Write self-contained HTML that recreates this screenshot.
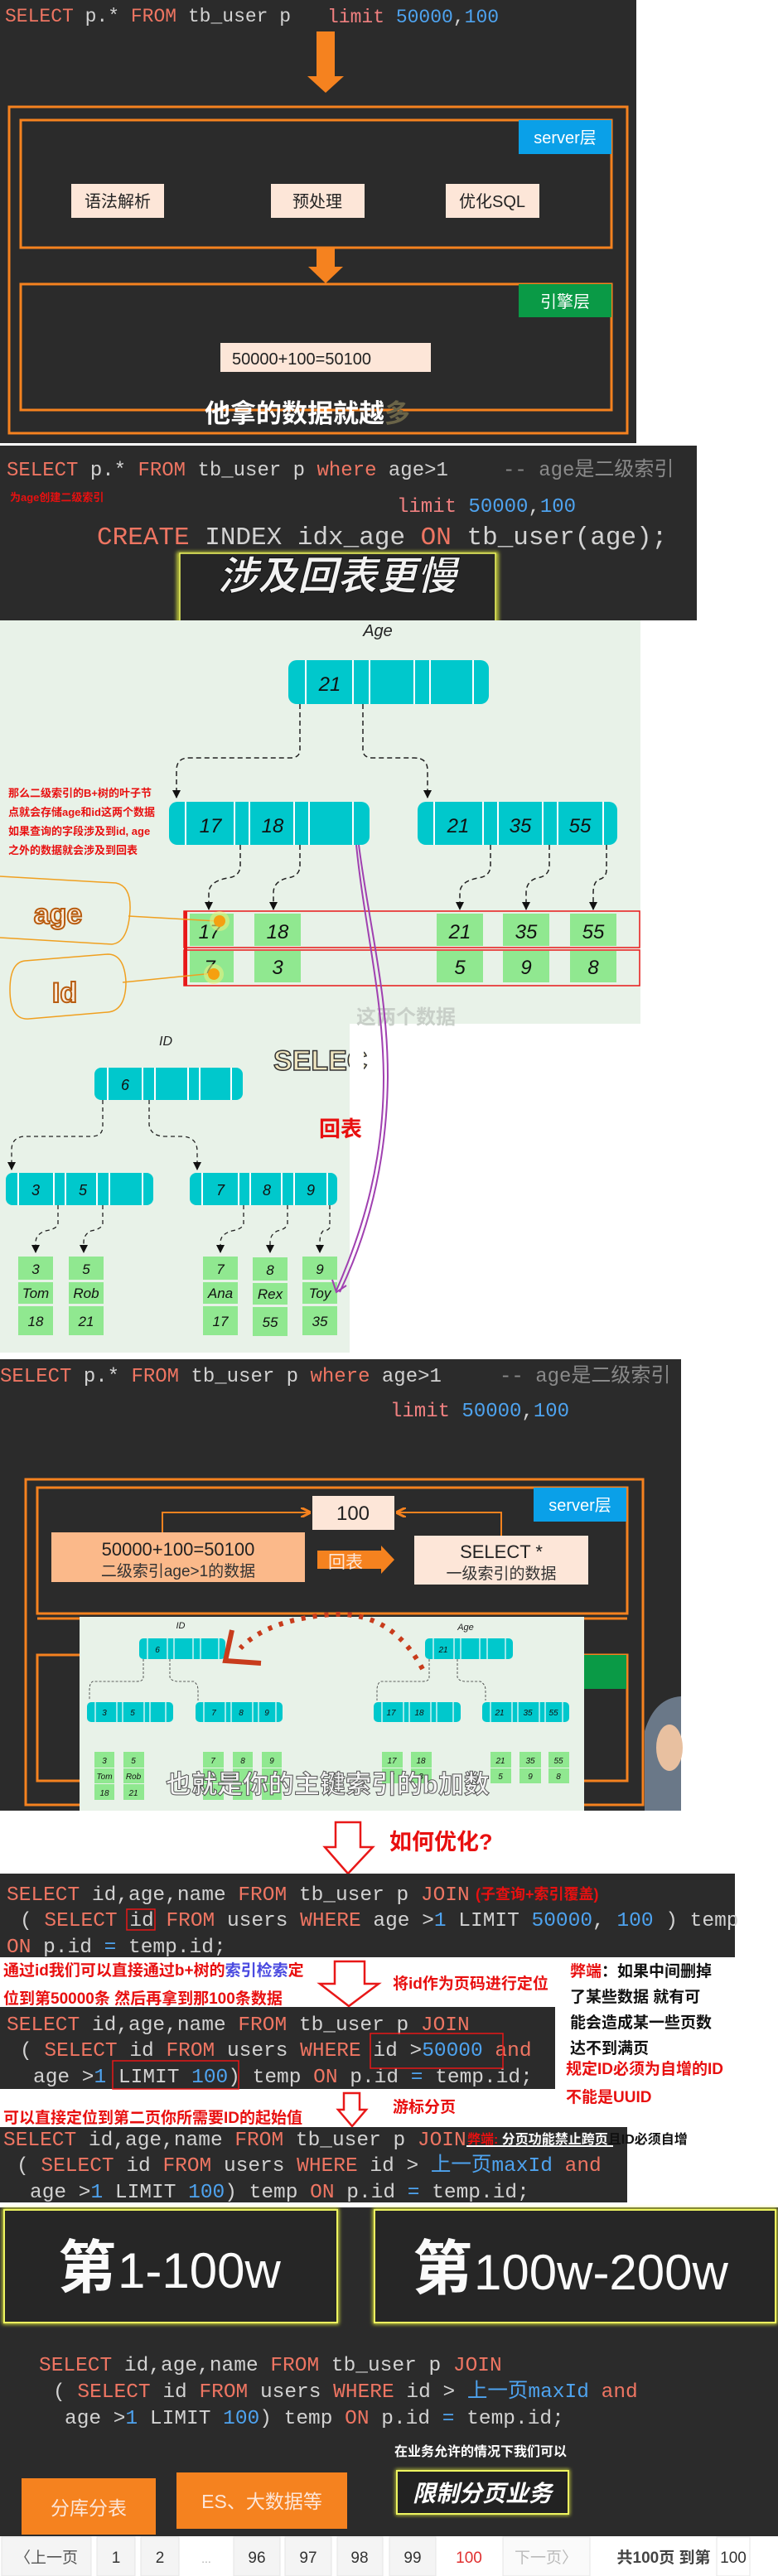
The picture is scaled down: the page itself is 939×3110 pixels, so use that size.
<!DOCTYPE html>
<html><head><meta charset="utf-8">
<style>
html,body{margin:0;padding:0;background:#fff;}
svg{display:block;}
.m{font-family:"Liberation Mono","Noto Sans CJK SC",monospace;}
.s{font-family:"Liberation Sans","Noto Sans CJK SC",sans-serif;}
.k{fill:#ee7562}.n{fill:#4ea3ef}.t{fill:#d2d2d2}.c{fill:#8a8a8a}
.it{font-family:"Liberation Sans",sans-serif;font-style:italic;}
</style></head><body>
<svg width="939" height="3110" viewBox="0 0 939 3110" xmlns="http://www.w3.org/2000/svg">
<defs>
<marker id="ah" markerWidth="8" markerHeight="8" refX="4" refY="7" orient="auto" markerUnits="userSpaceOnUse">
<path d="M0,0 L8,0 L4,8 z" fill="#111" transform="rotate(-90 4 4)"/>
</marker>
<marker id="ar" viewBox="0 0 10 10" refX="9" refY="5" markerWidth="10" markerHeight="10" orient="auto" markerUnits="userSpaceOnUse"><path d="M0,0 L10,5 L0,10 z" fill="#111"/></marker>
<marker id="ao" viewBox="0 0 10 10" refX="9" refY="5" markerWidth="12" markerHeight="12" orient="auto" markerUnits="userSpaceOnUse"><path d="M0,0 L10,5 L0,10" fill="none" stroke="#f5821f" stroke-width="2.5"/></marker>
<filter id="glow"><feGaussianBlur stdDeviation="2.5"/></filter>
</defs>

<!-- ===== Section 1 ===== -->
<rect x="0" y="0" width="768" height="535" fill="#2b2b2b"/>
<text x="6" y="26" class="m" font-size="23"><tspan class="k">SELECT</tspan><tspan class="t"> p.* </tspan><tspan class="k">FROM</tspan><tspan class="t"> tb_user p</tspan></text>
<text x="395" y="27" class="m" font-size="23"><tspan fill="#f08080">limit</tspan><tspan class="n"> 50000</tspan><tspan class="t">,</tspan><tspan class="n">100</tspan></text>
<polygon points="382,38 404,38 404,92 415,92 393,112 371,92 382,92" fill="#f5821f"/>
<rect x="11" y="129" width="746" height="394" fill="none" stroke="#f5821f" stroke-width="3"/>
<rect x="25" y="145" width="713" height="154" fill="none" stroke="#f5821f" stroke-width="3"/>
<rect x="626" y="145" width="112" height="41" fill="#0aa0e8"/>
<text x="682" y="173" class="s" font-size="20" fill="#fff" text-anchor="middle">server层</text>
<rect x="86" y="222" width="112" height="41" fill="#fde6d8"/>
<text x="142" y="250" class="s" font-size="20" fill="#222" text-anchor="middle">语法解析</text>
<rect x="327" y="222" width="113" height="41" fill="#fde6d8"/>
<text x="383" y="250" class="s" font-size="20" fill="#222" text-anchor="middle">预处理</text>
<rect x="538" y="222" width="113" height="41" fill="#fde6d8"/>
<text x="594" y="250" class="s" font-size="20" fill="#222" text-anchor="middle">优化SQL</text>
<polygon points="382,299 404,299 404,322 414,322 393,342 372,322 382,322" fill="#f5821f"/>
<rect x="25" y="343" width="713" height="152" fill="none" stroke="#f5821f" stroke-width="3"/>
<rect x="626" y="343" width="112" height="40" fill="#0a9a46"/>
<text x="682" y="371" class="s" font-size="20" fill="#fff" text-anchor="middle">引擎层</text>
<rect x="266" y="414" width="254" height="35" fill="#fde6d8"/>
<text x="280" y="440" class="s" font-size="20" fill="#222">50000+100=50100</text>
<text x="247" y="510" class="s" font-size="31" font-weight="bold" fill="#fff">他拿的数据就越<tspan fill="#6a6448">多</tspan></text>

<!-- ===== Section 2 ===== -->
<rect x="0" y="538" width="841" height="211" fill="#2b2b2b"/>
<text x="8" y="574" class="m" font-size="24"><tspan class="k">SELECT</tspan><tspan class="t"> p.* </tspan><tspan class="k">FROM</tspan><tspan class="t"> tb_user p </tspan><tspan class="k">where</tspan><tspan class="t"> age&gt;1</tspan></text>
<text x="607" y="574" class="m" font-size="24" fill="#8a8a8a">-- age是二级索引</text>
<text x="12" y="605" class="s" font-size="13" font-weight="bold" fill="#e81010">为age创建二级索引</text>
<text x="479" y="618" class="m" font-size="24"><tspan fill="#f08080">limit</tspan><tspan class="n"> 50000</tspan><tspan class="t">,</tspan><tspan class="n">100</tspan></text>
<text x="117" y="657" class="m" font-size="31"><tspan class="k">CREATE</tspan><tspan class="t"> INDEX idx_age </tspan><tspan class="k">ON</tspan><tspan class="t"> tb_user(age);</tspan></text>
<rect x="215" y="668" width="385" height="90" fill="#2a2a2a" stroke="#e6f040" stroke-width="3" filter="url(#glow)"/>
<rect x="217" y="668" width="381" height="88" fill="#262626" stroke="#eef560" stroke-width="1.5"/>
<text x="407" y="712" class="s" font-size="48" font-weight="bold" font-style="italic" fill="#f2f2f2" text-anchor="middle" stroke="#111" stroke-width="1">涉及回表更慢</text>

<!-- ===== Section 3 green ===== -->
<rect x="0" y="749" width="773" height="487" fill="#e8f2e8"/>
<rect x="0" y="1236" width="422" height="397" fill="#e8f2e8"/>
<text x="456" y="768" class="it" font-size="20" fill="#222" text-anchor="middle">Age</text>
<!-- Age root -->
<rect x="348" y="797" width="242" height="53" rx="10" fill="#00c8cc"/>
<g stroke="#fff" stroke-width="2"><line x1="369" y1="797" x2="369" y2="850"/><line x1="426" y1="797" x2="426" y2="850"/><line x1="446" y1="797" x2="446" y2="850"/><line x1="500" y1="797" x2="500" y2="850"/><line x1="519" y1="797" x2="519" y2="850"/><line x1="571" y1="797" x2="571" y2="850"/></g>
<text x="398" y="834" class="it" font-size="24" fill="#111" text-anchor="middle">21</text>
<g fill="none" stroke="#222" stroke-width="1.5" stroke-dasharray="6,4">
<path d="M362 850 V905 Q362 915 350 915 H228 Q213 915 213 930 V963" marker-end="url(#ar)"/>
<path d="M438 850 V905 Q438 915 450 915 H500 Q516 915 516 930 V963" marker-end="url(#ar)"/>
<path d="M290 1020 V1045 Q290 1058 275 1060 Q252 1064 252 1078 V1098" marker-end="url(#ar)"/>
<path d="M362 1020 V1045 Q362 1058 347 1060 Q330 1064 330 1078 V1098" marker-end="url(#ar)"/>
<path d="M592 1020 V1045 Q592 1058 577 1060 Q555 1064 555 1078 V1098" marker-end="url(#ar)"/>
<path d="M663 1020 V1045 Q663 1058 648 1060 Q635 1064 635 1078 V1098" marker-end="url(#ar)"/>
<path d="M732 1020 V1050 Q732 1060 722 1062 Q716 1066 716 1078 V1098" marker-end="url(#ar)"/>
</g>
<rect x="204" y="968" width="242" height="52" rx="10" fill="#00c8cc"/>
<g stroke="#fff" stroke-width="2"><line x1="224" y1="968" x2="224" y2="1020"/><line x1="283" y1="968" x2="283" y2="1020"/><line x1="301" y1="968" x2="301" y2="1020"/><line x1="355" y1="968" x2="355" y2="1020"/><line x1="373" y1="968" x2="373" y2="1020"/><line x1="426" y1="968" x2="426" y2="1020"/></g>
<text x="254" y="1005" class="it" font-size="24" fill="#111" text-anchor="middle">17</text>
<text x="329" y="1005" class="it" font-size="24" fill="#111" text-anchor="middle">18</text>
<rect x="504" y="968" width="241" height="52" rx="10" fill="#00c8cc"/>
<g stroke="#fff" stroke-width="2"><line x1="524" y1="968" x2="524" y2="1020"/><line x1="583" y1="968" x2="583" y2="1020"/><line x1="601" y1="968" x2="601" y2="1020"/><line x1="655" y1="968" x2="655" y2="1020"/><line x1="673" y1="968" x2="673" y2="1020"/><line x1="728" y1="968" x2="728" y2="1020"/></g>
<text x="553" y="1005" class="it" font-size="24" fill="#111" text-anchor="middle">21</text>
<text x="628" y="1005" class="it" font-size="24" fill="#111" text-anchor="middle">35</text>
<text x="700" y="1005" class="it" font-size="24" fill="#111" text-anchor="middle">55</text>
<!-- leaves -->
<g fill="#90e890">
<rect x="229" y="1103" width="53" height="39"/><rect x="307" y="1103" width="56" height="39"/><rect x="527" y="1103" width="56" height="39"/><rect x="607" y="1103" width="56" height="39"/><rect x="688" y="1103" width="56" height="39"/>
<rect x="229" y="1148" width="53" height="38"/><rect x="307" y="1148" width="56" height="38"/><rect x="527" y="1148" width="56" height="38"/><rect x="607" y="1148" width="56" height="38"/><rect x="688" y="1148" width="56" height="38"/>
</g>
<g class="it" font-size="24" fill="#111" text-anchor="middle">
<text x="253" y="1133">17</text><text x="335" y="1133">18</text><text x="555" y="1133">21</text><text x="635" y="1133">35</text><text x="716" y="1133">55</text>
<text x="253" y="1176">7</text><text x="335" y="1176">3</text><text x="555" y="1176">5</text><text x="635" y="1176">9</text><text x="716" y="1176">8</text>
</g>
<rect x="222" y="1100" width="550" height="44" fill="none" stroke="#e81818" stroke-width="1.5"/>
<rect x="222" y="1147" width="550" height="43" fill="none" stroke="#e81818" stroke-width="1.5"/>
<rect x="222" y="1100" width="4" height="90" fill="#e81818"/>
<g class="s" font-size="13" font-weight="bold" fill="#e81010">
<text x="10" y="962">那么二级索引的B+树的叶子节</text>
<text x="10" y="985">点就会存储age和id这两个数据</text>
<text x="10" y="1008">如果查询的字段涉及到id, age</text>
<text x="10" y="1031">之外的数据就会涉及到回表</text>
</g>
<path d="M0 1058 L140 1066 Q158 1070 157 1098 Q155 1138 135 1140 L0 1132" fill="none" stroke="#f0a020" stroke-width="1.5"/>
<path d="M30 1160 L130 1152 Q150 1152 152 1185 Q152 1220 130 1222 L35 1230 Q12 1232 12 1195 Q12 1162 30 1160" fill="none" stroke="#f0a020" stroke-width="1.5"/>
<text x="70" y="1115" class="s" font-size="34" font-weight="bold" fill="#fbeedd" stroke="#b85c10" stroke-width="2" text-anchor="middle">age</text>
<text x="78" y="1210" class="s" font-size="34" font-weight="bold" fill="#fbeedd" stroke="#b85c10" stroke-width="2" text-anchor="middle">Id</text>
<line x1="155" y1="1106" x2="262" y2="1112" stroke="#f0a020" stroke-width="1.5"/>
<line x1="148" y1="1186" x2="258" y2="1175" stroke="#f0a020" stroke-width="1.5"/>
<circle cx="265" cy="1112" r="12" fill="#e8f080" opacity="0.6"/><circle cx="265" cy="1112" r="7" fill="#f5a010"/>
<circle cx="258" cy="1176" r="12" fill="#e8f080" opacity="0.6"/><circle cx="258" cy="1176" r="7" fill="#f5a010"/>
<text x="430" y="1236" class="s" font-size="24" font-weight="bold" fill="#c8cfc8">这两个数据</text>
<!-- ID tree -->
<text x="200" y="1262" class="it" font-size="16" fill="#222" text-anchor="middle">ID</text>
<text x="330" y="1292" class="s" font-size="34" font-weight="bold" fill="#efe6c0" stroke="#333" stroke-width="1.5">SELEC</text>
<rect x="422" y="1255" width="17" height="45" fill="#fff"/>
<rect x="114" y="1289" width="179" height="39" rx="8" fill="#00c8cc"/>
<g stroke="#fff" stroke-width="2"><line x1="130" y1="1289" x2="130" y2="1328"/><line x1="172" y1="1289" x2="172" y2="1328"/><line x1="187" y1="1289" x2="187" y2="1328"/><line x1="227" y1="1289" x2="227" y2="1328"/><line x1="241" y1="1289" x2="241" y2="1328"/><line x1="279" y1="1289" x2="279" y2="1328"/></g>
<text x="151" y="1316" class="it" font-size="18" fill="#111" text-anchor="middle">6</text>
<g fill="none" stroke="#222" stroke-width="1.3" stroke-dasharray="5,4">
<path d="M124 1328 V1360 Q124 1372 110 1372 H28 Q14 1374 14 1388 V1412" marker-end="url(#ar)"/>
<path d="M180 1328 V1358 Q182 1372 200 1372 H222 Q238 1374 238 1390 V1412" marker-end="url(#ar)"/>
<path d="M70 1455 V1478 Q68 1484 55 1486 Q43 1490 43 1500 V1512" marker-end="url(#ar)"/>
<path d="M124 1455 V1478 Q122 1484 110 1486 Q101 1490 101 1500 V1512" marker-end="url(#ar)"/>
<path d="M294 1455 V1478 Q292 1484 280 1486 Q266 1490 266 1500 V1512" marker-end="url(#ar)"/>
<path d="M347 1455 V1478 Q345 1484 335 1486 Q326 1490 326 1500 V1512" marker-end="url(#ar)"/>
<path d="M398 1455 V1482 Q396 1486 390 1486 Q386 1490 386 1500 V1512" marker-end="url(#ar)"/>
</g>
<rect x="7" y="1416" width="178" height="39" rx="8" fill="#00c8cc"/>
<g stroke="#fff" stroke-width="2"><line x1="22" y1="1416" x2="22" y2="1455"/><line x1="65" y1="1416" x2="65" y2="1455"/><line x1="79" y1="1416" x2="79" y2="1455"/><line x1="117" y1="1416" x2="117" y2="1455"/><line x1="132" y1="1416" x2="132" y2="1455"/><line x1="172" y1="1416" x2="172" y2="1455"/></g>
<text x="43" y="1443" class="it" font-size="18" fill="#111" text-anchor="middle">3</text>
<text x="100" y="1443" class="it" font-size="18" fill="#111" text-anchor="middle">5</text>
<rect x="229" y="1416" width="178" height="39" rx="8" fill="#00c8cc"/>
<g stroke="#fff" stroke-width="2"><line x1="244" y1="1416" x2="244" y2="1455"/><line x1="288" y1="1416" x2="288" y2="1455"/><line x1="302" y1="1416" x2="302" y2="1455"/><line x1="340" y1="1416" x2="340" y2="1455"/><line x1="355" y1="1416" x2="355" y2="1455"/><line x1="395" y1="1416" x2="395" y2="1455"/></g>
<text x="266" y="1443" class="it" font-size="18" fill="#111" text-anchor="middle">7</text>
<text x="322" y="1443" class="it" font-size="18" fill="#111" text-anchor="middle">8</text>
<text x="375" y="1443" class="it" font-size="18" fill="#111" text-anchor="middle">9</text>
<g fill="#90e890">
<rect x="22" y="1517" width="42" height="28"/><rect x="22" y="1548" width="42" height="26"/><rect x="22" y="1577" width="42" height="35"/>
<rect x="83" y="1517" width="42" height="28"/><rect x="83" y="1548" width="42" height="26"/><rect x="83" y="1577" width="42" height="35"/>
<rect x="245" y="1517" width="42" height="28"/><rect x="245" y="1548" width="42" height="26"/><rect x="245" y="1577" width="42" height="35"/>
<rect x="305" y="1518" width="42" height="28"/><rect x="305" y="1549" width="42" height="26"/><rect x="305" y="1578" width="42" height="35"/>
<rect x="365" y="1517" width="42" height="28"/><rect x="365" y="1548" width="42" height="26"/><rect x="365" y="1577" width="42" height="35"/>
</g>
<g class="it" font-size="17" fill="#111" text-anchor="middle">
<text x="43" y="1538">3</text><text x="43" y="1567">Tom</text><text x="43" y="1601">18</text>
<text x="104" y="1538">5</text><text x="104" y="1567">Rob</text><text x="104" y="1601">21</text>
<text x="266" y="1538">7</text><text x="266" y="1567">Ana</text><text x="266" y="1601">17</text>
<text x="326" y="1539">8</text><text x="326" y="1568">Rex</text><text x="326" y="1602">55</text>
<text x="386" y="1538">9</text><text x="386" y="1567">Toy</text><text x="386" y="1601">35</text>
</g>
<text x="385" y="1372" class="s" font-size="26" font-weight="bold" fill="#e81010">回表</text>
<!-- purple curve -->
<g fill="none" stroke="#a040b0" stroke-width="2">
<path d="M430 1020 C440 1120, 462 1200, 463 1300 C463 1400, 440 1480, 406 1558"/>
<path d="M433 1020 C446 1120, 468 1200, 468 1300 C467 1400, 446 1485, 410 1560"/>
<path d="M401 1545 L406 1560 L418 1552"/>
</g>

<!-- ===== Section 4 ===== -->
<rect x="0" y="1641" width="822" height="545" fill="#2b2b2b"/>
<text x="0" y="1668" class="m" font-size="24"><tspan class="k">SELECT</tspan><tspan class="t"> p.* </tspan><tspan class="k">FROM</tspan><tspan class="t"> tb_user p </tspan><tspan class="k">where</tspan><tspan class="t"> age&gt;1</tspan></text>
<text x="603" y="1668" class="m" font-size="24" fill="#8a8a8a">-- age是二级索引</text>
<text x="471" y="1710" class="m" font-size="24"><tspan fill="#f08080">limit</tspan><tspan class="n"> 50000</tspan><tspan class="t">,</tspan><tspan class="n">100</tspan></text>
<rect x="31" y="1786" width="745" height="393" fill="none" stroke="#f5821f" stroke-width="3"/>
<rect x="45" y="1796" width="712" height="152" fill="none" stroke="#f5821f" stroke-width="3"/>
<line x1="45" y1="1954" x2="757" y2="1954" stroke="#f5821f" stroke-width="3"/>
<rect x="45" y="1998" width="712" height="152" fill="none" stroke="#f5821f" stroke-width="3"/>
<rect x="644" y="1796" width="112" height="41" fill="#0aa0e8"/>
<text x="700" y="1824" class="s" font-size="20" fill="#fff" text-anchor="middle">server层</text>
<rect x="644" y="1998" width="112" height="41" fill="#0a9a46"/>
<rect x="377" y="1806" width="99" height="41" fill="#fde6d8"/>
<text x="426" y="1835" class="s" font-size="24" fill="#222" text-anchor="middle">100</text>
<path d="M196 1850 V1826 H374" fill="none" stroke="#f5821f" stroke-width="2" marker-end="url(#ao)"/>
<path d="M605 1854 V1826 H479" fill="none" stroke="#f5821f" stroke-width="2" marker-end="url(#ao)"/>
<rect x="62" y="1850" width="306" height="60" fill="#fbb98a"/>
<text x="215" y="1878" class="s" font-size="22" fill="#222" text-anchor="middle">50000+100=50100</text>
<text x="215" y="1903" class="s" font-size="19" fill="#333" text-anchor="middle">二级索引age&gt;1的数据</text>
<rect x="500" y="1854" width="210" height="59" fill="#fde6d8"/>
<text x="605" y="1881" class="s" font-size="22" fill="#222" text-anchor="middle">SELECT *</text>
<text x="605" y="1906" class="s" font-size="19" fill="#333" text-anchor="middle">一级索引的数据</text>
<polygon points="383,1872 460,1872 460,1866 476,1883 460,1900 460,1894 383,1894" fill="#f5821f"/>
<text x="396" y="1893" class="s" font-size="21" fill="#fde6d8">回表</text>
<!-- embedded image -->
<rect x="96" y="1952" width="609" height="234" fill="#e8f2e8"/>
<text x="218" y="1966" class="it" font-size="11" fill="#222" text-anchor="middle">ID</text>
<text x="562" y="1968" class="it" font-size="11" fill="#222" text-anchor="middle">Age</text>
<g fill="#00c8cc">
<rect x="168" y="1978" width="104" height="25" rx="5"/><rect x="513" y="1978" width="106" height="25" rx="5"/>
<rect x="105" y="2055" width="104" height="24" rx="5"/><rect x="236" y="2055" width="105" height="24" rx="5"/>
<rect x="451" y="2055" width="105" height="24" rx="5"/><rect x="582" y="2055" width="105" height="24" rx="5"/>
</g>
<g stroke="#fff" stroke-width="1.2">
<line x1="178" y1="1978" x2="178" y2="2003"/><line x1="202" y1="1978" x2="202" y2="2003"/><line x1="210" y1="1978" x2="210" y2="2003"/><line x1="233" y1="1978" x2="233" y2="2003"/><line x1="242" y1="1978" x2="242" y2="2003"/><line x1="264" y1="1978" x2="264" y2="2003"/>
<line x1="523" y1="1978" x2="523" y2="2003"/><line x1="548" y1="1978" x2="548" y2="2003"/><line x1="556" y1="1978" x2="556" y2="2003"/><line x1="579" y1="1978" x2="579" y2="2003"/><line x1="588" y1="1978" x2="588" y2="2003"/><line x1="610" y1="1978" x2="610" y2="2003"/>
<line x1="115" y1="2055" x2="115" y2="2079"/><line x1="141" y1="2055" x2="141" y2="2079"/><line x1="148" y1="2055" x2="148" y2="2079"/><line x1="174" y1="2055" x2="174" y2="2079"/><line x1="181" y1="2055" x2="181" y2="2079"/><line x1="200" y1="2055" x2="200" y2="2079"/>
<line x1="246" y1="2055" x2="246" y2="2079"/><line x1="272" y1="2055" x2="272" y2="2079"/><line x1="279" y1="2055" x2="279" y2="2079"/><line x1="305" y1="2055" x2="305" y2="2079"/><line x1="312" y1="2055" x2="312" y2="2079"/><line x1="333" y1="2055" x2="333" y2="2079"/>
<line x1="461" y1="2055" x2="461" y2="2079"/><line x1="487" y1="2055" x2="487" y2="2079"/><line x1="494" y1="2055" x2="494" y2="2079"/><line x1="520" y1="2055" x2="520" y2="2079"/><line x1="527" y1="2055" x2="527" y2="2079"/><line x1="547" y1="2055" x2="547" y2="2079"/>
<line x1="592" y1="2055" x2="592" y2="2079"/><line x1="618" y1="2055" x2="618" y2="2079"/><line x1="625" y1="2055" x2="625" y2="2079"/><line x1="651" y1="2055" x2="651" y2="2079"/><line x1="658" y1="2055" x2="658" y2="2079"/><line x1="679" y1="2055" x2="679" y2="2079"/>
</g>
<g class="it" font-size="10" fill="#111" text-anchor="middle">
<text x="190" y="1995">6</text><text x="535" y="1995">21</text>
<text x="126" y="2071">3</text><text x="160" y="2071">5</text><text x="258" y="2071">7</text><text x="291" y="2071">8</text><text x="322" y="2071">9</text>
<text x="472" y="2071">17</text><text x="506" y="2071">18</text><text x="603" y="2071">21</text><text x="637" y="2071">35</text><text x="668" y="2071">55</text>
</g>
<g fill="none" stroke="#333" stroke-width="0.8" stroke-dasharray="3,2">
<path d="M173 2003 V2025 Q173 2030 165 2030 H112 Q108 2032 108 2040 V2053"/>
<path d="M205 2003 V2025 Q207 2030 215 2030 H234 Q239 2034 239 2040 V2053"/>
<path d="M518 2003 V2025 Q518 2030 510 2030 H460 Q455 2032 455 2040 V2053"/>
<path d="M552 2003 V2025 Q554 2030 562 2030 H580 Q586 2034 586 2040 V2053"/>
</g>
<g fill="#90e890">
<rect x="114" y="2115" width="24" height="19"/><rect x="114" y="2135" width="24" height="18"/><rect x="114" y="2154" width="24" height="19"/>
<rect x="149" y="2115" width="25" height="19"/><rect x="149" y="2135" width="25" height="18"/><rect x="149" y="2154" width="25" height="19"/>
<rect x="245" y="2115" width="25" height="19"/><rect x="245" y="2135" width="25" height="18"/><rect x="245" y="2154" width="25" height="19"/>
<rect x="281" y="2115" width="24" height="19"/><rect x="281" y="2135" width="24" height="18"/><rect x="281" y="2154" width="24" height="19"/>
<rect x="316" y="2115" width="24" height="19"/><rect x="316" y="2135" width="24" height="18"/><rect x="316" y="2154" width="24" height="19"/>
<rect x="461" y="2115" width="25" height="19"/><rect x="461" y="2135" width="25" height="18"/>
<rect x="496" y="2115" width="25" height="19"/><rect x="496" y="2135" width="25" height="18"/>
<rect x="592" y="2115" width="25" height="19"/><rect x="592" y="2135" width="25" height="18"/>
<rect x="627" y="2115" width="26" height="19"/><rect x="627" y="2135" width="26" height="18"/>
<rect x="662" y="2115" width="25" height="19"/><rect x="662" y="2135" width="25" height="18"/>
</g>
<g class="it" font-size="10" fill="#111" text-anchor="middle">
<text x="126" y="2129">3</text><text x="126" y="2148">Tom</text><text x="126" y="2168">18</text>
<text x="161" y="2129">5</text><text x="161" y="2148">Rob</text><text x="161" y="2168">21</text>
<text x="257" y="2129">7</text><text x="293" y="2129">8</text><text x="328" y="2129">9</text>
<text x="473" y="2129">17</text><text x="508" y="2129">18</text><text x="604" y="2129">21</text><text x="640" y="2129">35</text><text x="674" y="2129">55</text>
<text x="473" y="2148">7</text><text x="508" y="2148">3</text><text x="604" y="2148">5</text><text x="640" y="2148">9</text><text x="674" y="2148">8</text>
</g>
<path d="M510 2015 Q470 1940 390 1950 Q320 1958 290 1990" fill="none" stroke="#c83c1c" stroke-width="6" stroke-dasharray="5,9"/>
<path d="M280 1968 L272 2005 L315 2008" fill="none" stroke="#c83c1c" stroke-width="6"/>
<text x="200" y="2165" class="s" font-size="31" font-weight="bold" fill="#f4f4f4" stroke="#555" stroke-width="1">也就是你的主键索引的b加数</text>
<path d="M778 2186 V2090 Q790 2050 822 2048 V2186 Z" fill="#6a7888"/>
<ellipse cx="808" cy="2110" rx="16" ry="28" fill="#e8c0a0"/>

<!-- ===== Section 5 ===== -->
<polygon points="405,2200 435,2200 435,2230 450,2230 420,2262 392,2230 405,2230" fill="#fff" stroke="#e81818" stroke-width="2.5"/>
<text x="470" y="2233" class="s" font-size="27" font-weight="bold" fill="#e81010">如何优化?</text>
<rect x="0" y="2262" width="887" height="101" fill="#2b2b2b"/>
<text x="8" y="2294" class="m" font-size="24.5"><tspan class="k">SELECT</tspan><tspan class="t"> id,age,name </tspan><tspan class="k">FROM</tspan><tspan class="t"> tb_user p </tspan><tspan class="k">JOIN</tspan></text>
<text x="574" y="2293" class="s" font-size="18" font-weight="bold" fill="#e81010">(子查询+索引覆盖)</text>
<text x="24" y="2325" class="m" font-size="24.5"><tspan class="t">( </tspan><tspan class="k">SELECT</tspan><tspan class="t"> id </tspan><tspan class="k">FROM</tspan><tspan class="t"> users </tspan><tspan class="k">WHERE</tspan><tspan class="t"> age &gt;</tspan><tspan class="n">1</tspan><tspan class="t"> LIMIT </tspan><tspan class="n">50000</tspan><tspan class="t">, </tspan><tspan class="n">100</tspan><tspan class="t"> ) temp</tspan></text>
<rect x="153" y="2305" width="34" height="25" fill="none" stroke="#e81818" stroke-width="1.5"/>
<text x="8" y="2357" class="m" font-size="24.5"><tspan class="k">ON</tspan><tspan class="t"> p.id </tspan><tspan class="n">=</tspan><tspan class="t"> temp.id;</tspan></text>
<g class="s" font-size="19" font-weight="bold" fill="#e81010">
<text x="4" y="2385">通过id我们可以直接通过b+树的<tspan fill="#4a4ae0">索引检索</tspan>定</text>
<text x="4" y="2419">位到第50000条 然后再拿到那100条数据</text>
<text x="474" y="2401">将id作为页码进行定位</text>
<text x="474" y="2550">游标分页</text>
<text x="4" y="2563">可以直接定位到第二页你所需要ID的起始值</text>
<text x="683" y="2504">规定ID必须为自增的ID</text>
<text x="683" y="2538">不能是UUID</text>
</g>
<g class="s" font-size="19" font-weight="bold" fill="#111">
<text x="688" y="2386"><tspan fill="#e81010">弊端</tspan>：如果中间删掉</text>
<text x="688" y="2417">了某些数据 就有可</text>
<text x="688" y="2448">能会造成某一些页数</text>
<text x="688" y="2479">达不到满页</text>
</g>
<polygon points="404,2368 440,2368 440,2395 457,2395 421,2422 386,2395 404,2395" fill="#fff" stroke="#e81818" stroke-width="2.5"/>
<rect x="0" y="2423" width="670" height="99" fill="#2b2b2b"/>
<text x="8" y="2451" class="m" font-size="24.5"><tspan class="k">SELECT</tspan><tspan class="t"> id,age,name </tspan><tspan class="k">FROM</tspan><tspan class="t"> tb_user p </tspan><tspan class="k">JOIN</tspan></text>
<text x="24" y="2482" class="m" font-size="24.5"><tspan class="t">( </tspan><tspan class="k">SELECT</tspan><tspan class="t"> id </tspan><tspan class="k">FROM</tspan><tspan class="t"> users </tspan><tspan class="k">WHERE</tspan><tspan class="t"> id &gt;</tspan><tspan class="n">50000</tspan><tspan class="k"> and</tspan></text>
<text x="40" y="2514" class="m" font-size="24.5"><tspan class="t">age &gt;</tspan><tspan class="n">1</tspan><tspan class="t"> LIMIT </tspan><tspan class="n">100</tspan><tspan class="t">) temp </tspan><tspan class="k">ON</tspan><tspan class="t"> p.id </tspan><tspan class="n">=</tspan><tspan class="t"> temp.id;</tspan></text>
<rect x="447" y="2455" width="160" height="42" fill="none" stroke="#e81818" stroke-width="1.5"/>
<rect x="136" y="2488" width="152" height="34" fill="none" stroke="#e81818" stroke-width="1.5"/>
<polygon points="415,2527 434,2527 434,2547 442,2547 425,2567 408,2547 415,2547" fill="#fff" stroke="#e81818" stroke-width="2.5"/>
<rect x="0" y="2568" width="757" height="91" fill="#2b2b2b"/>
<text x="4" y="2590" class="m" font-size="24.5"><tspan class="k">SELECT</tspan><tspan class="t"> id,age,name </tspan><tspan class="k">FROM</tspan><tspan class="t"> tb_user p </tspan><tspan class="k">JOIN</tspan></text>
<rect x="563" y="2590" width="177" height="2" fill="#fff"/>
<text x="564" y="2588" class="s" font-size="16" font-weight="bold"><tspan fill="#e81010">弊端:</tspan><tspan fill="#fff"> 分页功能禁止跨页</tspan><tspan fill="#111">且ID必须自增</tspan></text>
<text x="20" y="2621" class="m" font-size="24.5"><tspan class="t">( </tspan><tspan class="k">SELECT</tspan><tspan class="t"> id </tspan><tspan class="k">FROM</tspan><tspan class="t"> users </tspan><tspan class="k">WHERE</tspan><tspan class="t"> id &gt; </tspan><tspan fill="#4ea3ef">上一页maxId</tspan><tspan class="k"> and</tspan></text>
<text x="36" y="2653" class="m" font-size="24.5"><tspan class="t">age &gt;</tspan><tspan class="n">1</tspan><tspan class="t"> LIMIT </tspan><tspan class="n">100</tspan><tspan class="t">) temp </tspan><tspan class="k">ON</tspan><tspan class="t"> p.id </tspan><tspan class="n">=</tspan><tspan class="t"> temp.id;</tspan></text>

<!-- ===== Section 6 ===== -->
<rect x="0" y="2665" width="939" height="397" fill="#2b2b2b"/>
<rect x="5" y="2668" width="402" height="136" fill="none" stroke="#e8f040" stroke-width="4" filter="url(#glow)"/>
<rect x="5" y="2668" width="402" height="136" fill="#262626" stroke="#eef560" stroke-width="2"/>
<rect x="452" y="2668" width="484" height="136" fill="none" stroke="#e8f040" stroke-width="4" filter="url(#glow)"/>
<rect x="452" y="2668" width="484" height="136" fill="#262626" stroke="#eef560" stroke-width="2"/>
<text x="70" y="2762" class="s" fill="#fafafa"><tspan font-size="70" font-weight="bold">第</tspan><tspan font-size="60" dx="2">1-100w</tspan></text>
<text x="498" y="2764" class="s" fill="#fafafa"><tspan font-size="72" font-weight="bold">第</tspan><tspan font-size="60" dx="2">100w-200w</tspan></text>
<text x="47" y="2862" class="m" font-size="24.5"><tspan class="k">SELECT</tspan><tspan class="t"> id,age,name </tspan><tspan class="k">FROM</tspan><tspan class="t"> tb_user p </tspan><tspan class="k">JOIN</tspan></text>
<text x="64" y="2894" class="m" font-size="24.5"><tspan class="t">( </tspan><tspan class="k">SELECT</tspan><tspan class="t"> id </tspan><tspan class="k">FROM</tspan><tspan class="t"> users </tspan><tspan class="k">WHERE</tspan><tspan class="t"> id &gt; </tspan><tspan fill="#4ea3ef">上一页maxId</tspan><tspan class="k"> and</tspan></text>
<text x="78" y="2926" class="m" font-size="24.5"><tspan class="t">age &gt;</tspan><tspan class="n">1</tspan><tspan class="t"> LIMIT </tspan><tspan class="n">100</tspan><tspan class="t">) temp </tspan><tspan class="k">ON</tspan><tspan class="t"> p.id </tspan><tspan class="n">=</tspan><tspan class="t"> temp.id;</tspan></text>
<text x="476" y="2965" class="s" font-size="16" font-weight="bold" fill="#fff">在业务允许的情况下我们可以</text>
<rect x="479" y="2983" width="207" height="52" fill="none" stroke="#e8f040" stroke-width="3" filter="url(#glow)"/>
<rect x="479" y="2983" width="207" height="52" fill="#222" stroke="#eef560" stroke-width="2"/>
<text x="582" y="3020" class="s" font-size="28" font-weight="bold" font-style="italic" fill="#fff" text-anchor="middle">限制分页业务</text>
<rect x="26" y="2992" width="162" height="68" fill="#f5821f"/>
<text x="107" y="3036" class="s" font-size="23" fill="#fde6d8" text-anchor="middle">分库分表</text>
<rect x="213" y="2985" width="206" height="68" fill="#f5821f"/>
<text x="316" y="3028" class="s" font-size="23" fill="#fde6d8" text-anchor="middle">ES、大数据等</text>
<!-- pagination -->
<rect x="0" y="3062" width="939" height="48" fill="#fff"/>
<g fill="#f4f4f4" stroke="#e4e4e4" stroke-width="1">
<rect x="2" y="3063" width="108" height="47"/><rect x="117" y="3063" width="46" height="47"/><rect x="170" y="3063" width="46" height="47"/>
<rect x="282" y="3063" width="56" height="47"/><rect x="344" y="3063" width="56" height="47"/><rect x="407" y="3063" width="55" height="47"/><rect x="470" y="3063" width="56" height="47"/>
<rect x="607" y="3063" width="105" height="47" fill="#fafafa"/><rect x="865" y="3063" width="40" height="47" fill="#fff"/>
</g>
<g class="s" font-size="19" fill="#333" text-anchor="middle">
<text x="56" y="3094" fill="#555">〈上一页</text><text x="140" y="3094">1</text><text x="193" y="3094">2</text><text x="249" y="3094" fill="#aaa" font-size="14">...</text>
<text x="310" y="3094">96</text><text x="372" y="3094">97</text><text x="434" y="3094">98</text><text x="498" y="3094">99</text>
<text x="566" y="3094" fill="#e03030">100</text><text x="659" y="3094" fill="#bbb">下一页〉</text>
<text x="801" y="3094" font-weight="bold" fill="#444">共100页 到第</text><text x="885" y="3094">100</text>
</g>
</svg>
</body></html>
